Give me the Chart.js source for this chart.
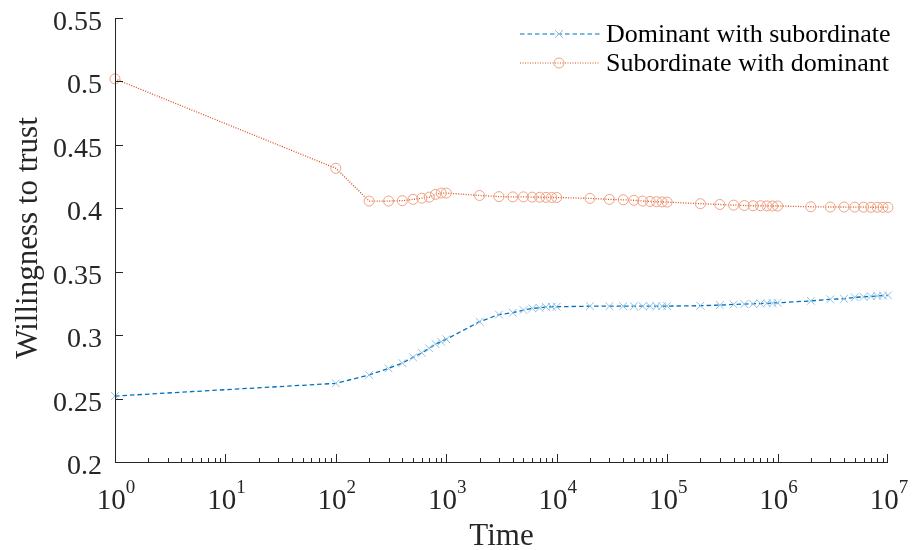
<!DOCTYPE html>
<html>
<head>
<meta charset="utf-8">
<script src="https://cdn.jsdelivr.net/npm/chart.js@4.4.1/dist/chart.umd.min.js"></script>
<style>
  body { margin: 0; background: #fff; }
  canvas { display: block; }
</style>
</head>
<body>
<canvas id="Chart" width="914" height="550"></canvas>
<script>
// time steps (x)
var timeSteps = [1,
  100, 200, 300, 400, 500, 600, 700, 800, 900,
  1000, 2000, 3000, 4000, 5000, 6000, 7000, 8000, 9000,
  1e4, 2e4, 3e4, 4e4, 5e4, 6e4, 7e4, 8e4, 9e4,
  1e5, 2e5, 3e5, 4e5, 5e5, 6e5, 7e5, 8e5, 9e5,
  1e6, 2e6, 3e6, 4e6, 5e6, 6e6, 7e6, 8e6, 9e6,
  1e7];

// dominant with subordinate
var dominantVals = [0.252,
  0.262, 0.2686, 0.2738, 0.278, 0.2825, 0.286, 0.2896, 0.293, 0.2948,
  0.2967, 0.3106, 0.3162, 0.3177, 0.3198, 0.3211, 0.3215, 0.3222, 0.3224,
  0.3224, 0.3228, 0.3228, 0.3228, 0.3228, 0.3228, 0.3228, 0.3228, 0.3228,
  0.3229, 0.3232, 0.3237, 0.3242, 0.3245, 0.3247, 0.3249, 0.3251, 0.3253,
  0.3255, 0.327, 0.3282, 0.3287, 0.3298, 0.3302, 0.3306, 0.3309, 0.3312,
  0.3314];

// subordinate with dominant
var subordinateVals = [0.502,
  0.4315, 0.4057, 0.4057, 0.406, 0.407, 0.408, 0.4088, 0.411, 0.412,
  0.412, 0.4101, 0.4092, 0.409, 0.409, 0.4088, 0.4087, 0.4086, 0.4085,
  0.4085, 0.4078, 0.407, 0.4067, 0.4063, 0.4057, 0.4054, 0.4052, 0.405,
  0.4049, 0.4036, 0.403, 0.4025, 0.4022, 0.402, 0.402, 0.4019, 0.4018,
  0.4018, 0.4012, 0.401, 0.401, 0.4009, 0.4009, 0.4008, 0.4008, 0.4008,
  0.4008];

var yTicks = [0.2, 0.25, 0.3, 0.35, 0.4, 0.45, 0.5, 0.55];
var yTickLabels = ['0.2', '0.25', '0.3', '0.35', '0.4', '0.45', '0.5', '0.55'];
var xTickExps = [0, 1, 2, 3, 4, 5, 6, 7];

var seriesNames = ['Dominant with subordinate', 'Subordinate with dominant'];

var blueLine = '#0072BD', blueMark = '#8ec0e6';
var redLine = '#D95319', redMark = '#efa284';
var FONT = '"Liberation Serif", "Times New Roman", serif';

function toPoints(xs, ys) {
  return xs.map(function (x, i) { return { x: x, y: ys[i] }; });
}

// axes, ticks, labels and legend drawn by hand (MATLAB look)
var axesPlugin = {
  id: 'matlabAxes',
  afterDraw: function (chart) {
    var c = chart.ctx, xs = chart.scales.x, ys = chart.scales.y;
    var L = chart.chartArea.left, R = chart.chartArea.right;
    var T = chart.chartArea.top, B = chart.chartArea.bottom;
    c.save();
    c.strokeStyle = '#262626';
    c.lineWidth = 1;
    c.beginPath();
    c.moveTo(L + 0.5, T); c.lineTo(L + 0.5, B + 0.5); c.lineTo(R, B + 0.5);
    c.stroke();

    // y ticks
    c.fillStyle = '#262626';
    c.font = '28px ' + FONT;
    c.textAlign = 'right';
    c.textBaseline = 'alphabetic';
    yTicks.forEach(function (v, i) {
      var py = Math.round(ys.getPixelForValue(v)) + 0.5;
      c.beginPath(); c.moveTo(L, py); c.lineTo(L + 8, py); c.stroke();
      c.fillText(yTickLabels[i], L - 13, py + 11);
    });

    // x ticks (major + minor, inward)
    for (var e = 0; e < 7; e++) {
      for (var m = 1; m <= 9; m++) {
        var px = Math.round(xs.getPixelForValue(m * Math.pow(10, e))) + 0.5;
        var len = m === 1 ? 8 : 4;
        c.beginPath(); c.moveTo(px, B); c.lineTo(px, B - len); c.stroke();
      }
    }
    var pEnd = Math.round(xs.getPixelForValue(1e7)) - 0.5;
    c.beginPath(); c.moveTo(pEnd, B); c.lineTo(pEnd, B - 8); c.stroke();

    // x tick labels 10^n
    xTickExps.forEach(function (n) {
      var px = xs.getPixelForValue(Math.pow(10, n));
      c.font = '29px ' + FONT;
      var wb = c.measureText('10').width;
      c.font = '19px ' + FONT;
      var we = c.measureText(String(n)).width;
      var x0 = px - (wb + we) / 2 + 1;
      c.textAlign = 'left';
      c.font = '29px ' + FONT;
      c.fillText('10', x0, B + 47);
      c.font = '19px ' + FONT;
      c.fillText(String(n), x0 + wb, B + 31);
    });

    // axis titles
    c.font = '31px ' + FONT;
    c.textAlign = 'center';
    c.fillText('Time', (L + R) / 2, 545);
    c.save();
    c.translate(29, (T + B) / 2 - 2);
    c.rotate(-Math.PI / 2);
    c.textBaseline = 'middle';
    c.fillText('Willingness to trust', 0, 0);
    c.restore();

    // legend
    var rows = [
      { name: seriesNames[0], y: 34, line: blueLine, mark: blueMark, dash: [4.5, 3], style: 'x' },
      { name: seriesNames[1], y: 63, line: redLine, mark: redMark, dash: [1, 1.5], style: 'o' }
    ];
    rows.forEach(function (r) {
      c.strokeStyle = r.line;
      c.lineWidth = 1.2;
      c.setLineDash(r.dash);
      c.beginPath(); c.moveTo(520, r.y); c.lineTo(600, r.y); c.stroke();
      c.setLineDash([]);
      c.strokeStyle = r.mark;
      c.lineWidth = 1;
      c.beginPath();
      if (r.style === 'x') {
        c.moveTo(555, r.y - 4); c.lineTo(563, r.y + 4);
        c.moveTo(555, r.y + 4); c.lineTo(563, r.y - 4);
      } else {
        c.arc(559, r.y, 5, 0, Math.PI * 2);
      }
      c.stroke();
      c.fillStyle = '#000';
      c.font = '26px ' + FONT;
      c.textAlign = 'left';
      c.textBaseline = 'middle';
      c.fillText(r.name, 606, r.y + 1);
    });
    c.restore();
  }
};

var ctx = document.getElementById('Chart').getContext('2d');
var myChart = new Chart(ctx, {
  type: 'line',
  data: {
    datasets: [{
      label: seriesNames[0],
      data: toPoints(timeSteps, dominantVals),
      borderColor: blueLine,
      borderWidth: 1.3,
      borderDash: [4.5, 3],
      pointStyle: 'crossRot',
      pointRadius: 5.5,
      pointBorderColor: blueMark,
      pointBorderWidth: 1,
      fill: false,
      tension: 0,
      clip: false
    }, {
      label: seriesNames[1],
      data: toPoints(timeSteps, subordinateVals),
      borderColor: redLine,
      borderWidth: 1.3,
      borderDash: [1, 1.5],
      pointStyle: 'circle',
      pointRadius: 5,
      pointBackgroundColor: 'rgba(0,0,0,0)',
      pointBorderColor: redMark,
      pointBorderWidth: 1,
      fill: false,
      tension: 0,
      clip: false
    }]
  },
  options: {
    responsive: false,
    animation: false,
    layout: { padding: { left: 115, right: 26, top: 18, bottom: 88 } },
    plugins: { legend: { display: false }, tooltip: { enabled: false } },
    scales: {
      x: { type: 'logarithmic', min: 1, max: 1e7, display: false },
      y: { type: 'linear', min: 0.2, max: 0.55, display: false }
    }
  },
  plugins: [axesPlugin]
});
</script>
</body>
</html>
